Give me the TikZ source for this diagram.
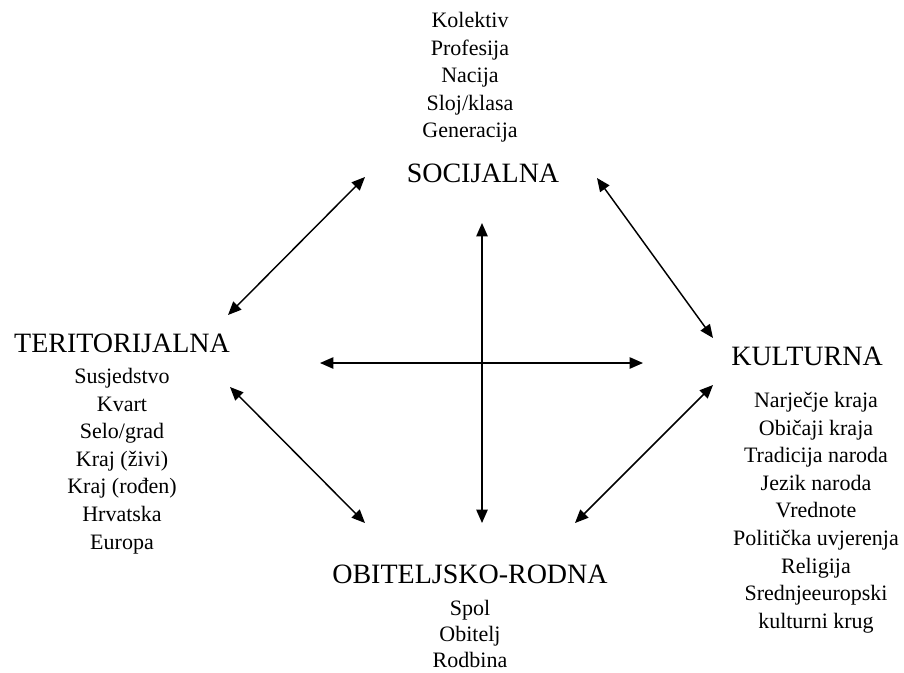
\documentclass[tikz,border=0pt]{standalone}
\usepackage{fontspec}
\setmainfont{Liberation Serif}
\usetikzlibrary{arrows.meta, positioning}

\begin{document}
\begin{tikzpicture}[
  x=0.75pt, y=-0.75pt,
  head/.style={inner sep=0pt, anchor=base, font=\fontsize{21}{25}\selectfont},
  list/.style={inner sep=0pt, anchor=north, align=center,
               font=\fontsize{16.5}{20.7}\selectfont},
  arr/.style={{Triangle[length=10pt,width=8.5pt]}-{Triangle[length=10pt,width=8.5pt]},
              line width=1.1pt}
]
\useasboundingbox (0,0) rectangle (904,672);

% headings
\node[head] (soc) at (483,182) {SOCIJALNA};
\node[head] (ter) at (122,352) {TERITORIJALNA};
\node[head] (kul) at (807,365) {KULTURNA};
\node[head] (obi) at (470,583) {OBITELJSKO-RODNA};

% lists
\node[list] (soclist) at (470,12) {Kolektiv\\Profesija\\Nacija\\Sloj/klasa\\Generacija};
\node[list] (terlist) at (122,368) {Susjedstvo\\Kvart\\Selo/grad\\Kraj (živi)\\Kraj (rođen)\\Hrvatska\\Europa};
\node[list] (kullist) at (816,392) {Narječje kraja\\Običaji kraja\\Tradicija naroda\\Jezik naroda\\Vrednote\\Politička uvjerenja\\Religija\\Srednjeeuropski\\kulturni krug};
\node[list, font=\fontsize{16.5}{19.3}\selectfont] (obilist) at (470,600) {Spol\\Obitelj\\Rodbina};

% arrow ends
\coordinate (ter-n) at (228,315);
\coordinate (soc-w) at (365,177);
\coordinate (soc-e) at (597,178);
\coordinate (kul-n) at (713,338);
\coordinate (ter-s) at (230,387);
\coordinate (obi-w) at (365,523);
\coordinate (obi-e) at (575,523);
\coordinate (kul-s) at (713,385);
\coordinate (soc-s) at (482,223);
\coordinate (obi-n) at (482,523);
\coordinate (ter-e) at (320,363);
\coordinate (kul-w) at (643,363);

\draw[arr] (ter-n) -- (soc-w);
\draw[arr] (soc-e) -- (kul-n);
\draw[arr] (ter-s) -- (obi-w);
\draw[arr] (obi-e) -- (kul-s);
\draw[arr] (soc-s) -- (obi-n);
\draw[arr] (ter-e) -- (kul-w);
\end{tikzpicture}
\end{document}
